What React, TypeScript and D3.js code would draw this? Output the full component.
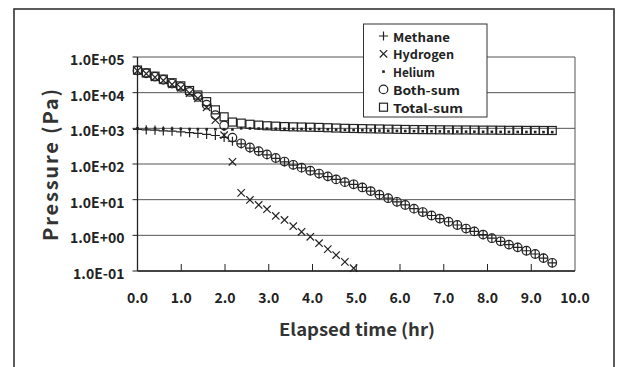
import React from 'react';
import * as d3 from 'd3';

// elapsed time (hr), one sample every ~12 min
const times = [
  0.0, 0.2, 0.4, 0.59, 0.79, 0.99, 1.19, 1.38, 1.58, 1.78,
  1.98, 2.17, 2.37, 2.57, 2.77, 2.96, 3.16, 3.36, 3.56, 3.75,
  3.95, 4.15, 4.35, 4.54, 4.74, 4.94, 5.14, 5.33, 5.53, 5.73,
  5.93, 6.12, 6.32, 6.52, 6.72, 6.91, 7.11, 7.31, 7.51, 7.7,
  7.9, 8.1, 8.3, 8.49, 8.69, 8.89, 9.09, 9.28, 9.48,
];

// pressures (Pa)
const methane = [
  930, 910, 890, 850, 830, 795, 760, 725, 675, 630,
  560, 435, 365, 280, 223, 181, 144, 114, 93, 78,
  64, 53, 44, 37, 31, 27, 22, 17.4, 13.8, 11,
  8.7, 7.1, 5.6, 4.5, 3.6, 2.95, 2.4, 1.95, 1.55, 1.29,
  1.05, 0.83, 0.68, 0.55, 0.46, 0.37, 0.3, 0.23, 0.17,
];
const hydrogen = [
  41000, 34000, 27000, 22000, 17000, 13700, 9700, 6900, 3900, 1700,
  640, 115, 15.5, 9.8, 7.1, 5.4, 3.5, 2.7, 1.8, 1.26,
  0.91, 0.6, 0.41, 0.28, 0.18, 0.12,
];
const helium = [
  1000, 990, 985, 975, 970, 960, 955, 950, 945, 940,
  935, 930, 1000, 990, 985, 980, 975, 970, 965, 960,
  955, 950, 935, 920, 905, 895, 885, 875, 865, 855,
  848, 840, 833, 828, 824, 820, 815, 810, 808, 805,
  802, 800, 797, 794, 792, 790, 788, 785, 783,
];
const bothSum = [
  42000, 35000, 28000, 23000, 18000, 14500, 10500, 7600, 4600, 2350,
  1200, 550, 380, 290, 230, 186, 148, 117, 95, 79,
  65, 54, 45, 37, 31, 27, 22, 17.4, 13.8, 11,
  8.7, 7.1, 5.6, 4.5, 3.6, 2.95, 2.4, 1.95, 1.55, 1.29,
  1.05, 0.83, 0.68, 0.55, 0.46, 0.37, 0.3, 0.23, 0.17,
];
const totalSum = [
  43000, 36000, 29000, 24000, 19000, 15500, 11500, 8600, 5600, 3300,
  2100, 1500, 1400, 1300, 1230, 1180, 1150, 1120, 1100, 1090,
  1075, 1060, 1040, 1020, 1000, 990, 980, 970, 960, 950,
  940, 930, 925, 920, 915, 910, 905, 900, 900, 895,
  890, 890, 885, 880, 880, 875, 875, 870, 870,
];

const xTicks = [0, 1, 2, 3, 4, 5, 6, 7, 8, 9, 10];
const yTicks = [1e-1, 1e0, 1e1, 1e2, 1e3, 1e4, 1e5];
const legendItems = ['Methane', 'Hydrogen', 'Helium', 'Both-sum', 'Total-sum'];
const legendWidths = [57, 61, 42, 67, 70];

const FONT = "'Noto Sans CJK JP', 'Noto Sans', sans-serif";
const INK = '#222';
const SW = 1.2;

const fmtExp = (v: number) => {
  const e = Math.round(Math.log10(v));
  return '1.0E' + (e < 0 ? '-' : '+') + String(Math.abs(e)).padStart(2, '0');
};

const Plus = ({ x, y, r = 4.6 }: { x: number; y: number; r?: number }) => (
  <path d={`M${x - r},${y}H${x + r}M${x},${y - r}V${y + r}`} stroke={INK} strokeWidth={SW} fill="none" />
);
const Times = ({ x, y, r = 3.7 }: { x: number; y: number; r?: number }) => (
  <path d={`M${x - r},${y - r}L${x + r},${y + r}M${x - r},${y + r}L${x + r},${y - r}`} stroke={INK} strokeWidth={SW} fill="none" />
);
const Dot = ({ x, y }: { x: number; y: number }) => (
  <rect x={x - 1.3} y={y - 1.3} width={2.6} height={2.6} fill={INK} />
);
const Ring = ({ x, y, r = 4.3 }: { x: number; y: number; r?: number }) => (
  <circle cx={x} cy={y} r={r} stroke={INK} strokeWidth={SW} fill="none" />
);
const Box = ({ x, y, r = 4 }: { x: number; y: number; r?: number }) => (
  <rect x={x - r} y={y - r} width={2 * r} height={2 * r} stroke={INK} strokeWidth={SW} fill="none" />
);

const markers = [Plus, Times, Dot, Ring, Box];

export default function App() {
  const width = 619;
  const height = 367;
  const margin = { left: 137.5, right: 44, top: 57, bottom: 96 };
  const innerW = width - margin.left - margin.right;
  const innerH = height - margin.top - margin.bottom;

  const x = d3.scaleLinear().domain([0, 10]).range([0, innerW]);
  const y = d3.scaleLog().domain([1e-1, 1e5]).range([innerH, 0]);

  const series = [methane, hydrogen, helium, bothSum, totalSum];

  return (
    <svg width={width} height={height} style={{ position: 'absolute', left: 0, top: 0, background: '#fff' }}>
      <rect x={14} y={9} width={600} height={380} fill="#fff" stroke="#333" strokeWidth={1.6} />

      <g transform={`translate(${margin.left},${margin.top})`}>
        {/* gridlines */}
        {yTicks.map(t => (
          <line key={t} x1={0} x2={innerW} y1={y(t)} y2={y(t)} stroke="#555" strokeWidth={1} />
        ))}
        <line x1={innerW} x2={innerW} y1={0} y2={innerH} stroke="#555" strokeWidth={1} />
        {/* axes */}
        <line x1={0} x2={0} y1={0} y2={innerH} stroke={INK} strokeWidth={1.3} />
        <line x1={0} x2={innerW} y1={innerH} y2={innerH} stroke={INK} strokeWidth={1.3} />
        {yTicks.map(t => (
          <line key={t} x1={-5} x2={0} y1={y(t)} y2={y(t)} stroke={INK} strokeWidth={1} />
        ))}
        {xTicks.slice(1, -1).map(t => (
          <line key={t} x1={x(t)} x2={x(t)} y1={innerH} y2={innerH - 7} stroke={INK} strokeWidth={1} />
        ))}

        {/* tick labels */}
        {yTicks.map(t => (
          <text key={t} x={-13} y={y(t) + 2} textAnchor="end" dominantBaseline="central"
            fontFamily={FONT} fontWeight={700} fontSize={14} fill={INK}>{fmtExp(t)}</text>
        ))}
        {xTicks.map(t => (
          <text key={t} x={x(t)} y={innerH + 26} textAnchor="middle" dominantBaseline="central"
            fontFamily={FONT} fontWeight={700} fontSize={14} fill={INK}>{t.toFixed(1)}</text>
        ))}

        {/* series */}
        {series.map((vals, si) => {
          const M = markers[si];
          return (
            <g key={si}>
              {vals.map((v, i) => <M key={i} x={x(times[i])} y={y(v)} />)}
            </g>
          );
        })}
      </g>

      {/* axis titles */}
      <text x={357} y={328} textAnchor="middle" dominantBaseline="central" fontFamily={FONT}
        fontWeight={700} fontSize={17} fill="#333" textLength={156} lengthAdjust="spacingAndGlyphs">Elapsed time (hr)</text>
      <text transform="translate(49,165) rotate(-90)" textAnchor="middle" dominantBaseline="central"
        fontFamily={FONT} fontWeight={700} fontSize={20} fill="#333" textLength={152} lengthAdjust="spacing">Pressure (Pa)</text>

      {/* legend */}
      <g transform="translate(363.5,24)">
        <rect x={0} y={0} width={123.5} height={93} fill="#fff" stroke="#333" strokeWidth={1} />
        {legendItems.map((name, i) => {
          const M = markers[i];
          const cy = 12 + i * 17.8;
          return (
            <g key={name}>
              <M x={20} y={cy} />
              <text x={29.5} y={cy} dominantBaseline="central" fontFamily={FONT} fontWeight={700}
                fontSize={12} fill={INK} textLength={legendWidths[i]} lengthAdjust="spacingAndGlyphs">{name}</text>
            </g>
          );
        })}
      </g>
    </svg>
  );
}
